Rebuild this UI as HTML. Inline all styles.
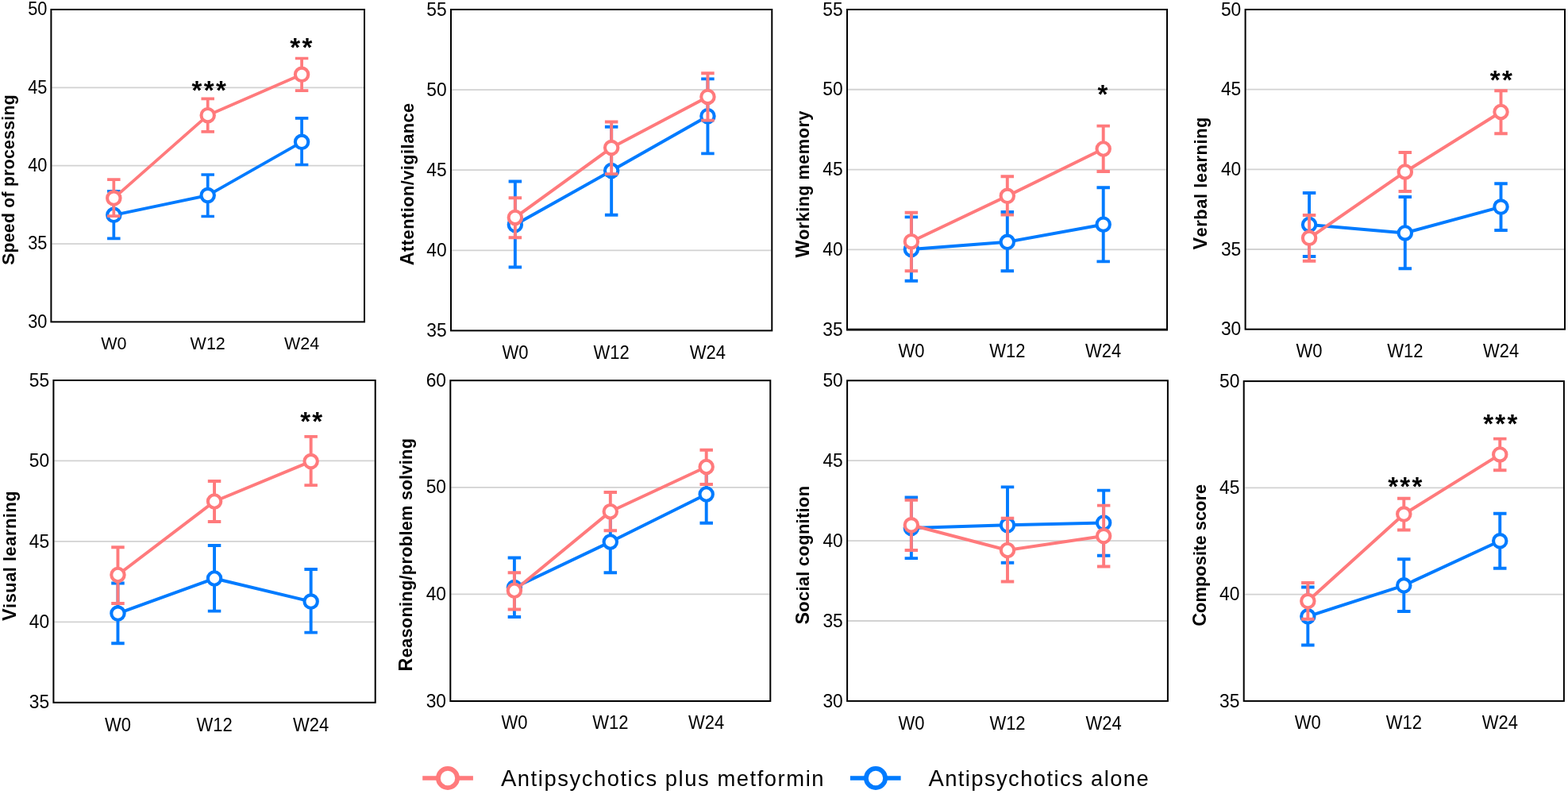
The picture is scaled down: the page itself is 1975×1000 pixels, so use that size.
<!DOCTYPE html>
<html><head><meta charset="utf-8"><title>Cognitive outcomes</title>
<style>
html,body{margin:0;padding:0;background:#fff;}
body{width:1975px;height:1000px;overflow:hidden;}
svg{display:block;}
text{font-family:"Liberation Sans",Arial,sans-serif;fill:#000;}
.gr{stroke:#D2D2D2;stroke-width:1.8;}
.fr{fill:none;stroke:#000;stroke-width:2;}
.yt{text-anchor:end;}
.xt{text-anchor:middle;}
.yl{font-weight:bold;}
.st{font-weight:bold;font-size:33px;letter-spacing:2.35px;text-anchor:middle;}
.lg{font-size:27.4px;}
</style></head>
<body>
<svg width="1975" height="1000" viewBox="0 0 1975 1000">
<rect width="1975" height="1000" fill="#fff"/>
<line x1="65.4" y1="307.05" x2="458" y2="307.05" class="gr"/>
<line x1="65.4" y1="208.7" x2="458" y2="208.7" class="gr"/>
<line x1="65.4" y1="110.35" x2="458" y2="110.35" class="gr"/>
<rect x="64.4" y="12" width="394.6" height="393.4" class="fr"/>
<text transform="translate(59.34,412.66) scale(1,1.08)" class="yt" font-size="21.77">30</text>
<text transform="translate(59.34,314.31) scale(1,1.08)" class="yt" font-size="21.77">35</text>
<text transform="translate(59.34,215.96) scale(1,1.08)" class="yt" font-size="21.77">40</text>
<text transform="translate(59.34,117.61) scale(1,1.08)" class="yt" font-size="21.77">45</text>
<text transform="translate(59.34,19.26) scale(1,1.08)" class="yt" font-size="21.77">50</text>
<text transform="translate(143.32,439.89) scale(1,1.05)" class="xt" font-size="21.49">W0</text>
<text transform="translate(261.7,439.89) scale(1,1.05)" class="xt" font-size="21.49">W12</text>
<text transform="translate(380.08,439.89) scale(1,1.05)" class="xt" font-size="21.49">W24</text>
<text transform="translate(18,333.8) rotate(-90)" class="yl" font-size="21.15" textLength="214.4" lengthAdjust="spacing"><tspan font-size="22.63">S</tspan>peed of processing</text>
<polyline points="143.32,270.8 261.7,246.1 380.08,178.8" fill="none" stroke="#007BFF" stroke-width="3.82" stroke-linejoin="round"/>
<path d="M143.32 240.9V300.4M135.07 240.9H151.57M135.07 300.4H151.57" stroke="#007BFF" stroke-width="3.72" fill="none"/>
<path d="M261.7 220V272.5M253.45 220H269.95M253.45 272.5H269.95" stroke="#007BFF" stroke-width="3.72" fill="none"/>
<path d="M380.08 148.9V207.5M371.83 148.9H388.33M371.83 207.5H388.33" stroke="#007BFF" stroke-width="3.72" fill="none"/>
<circle cx="143.32" cy="270.8" r="8.2" fill="#fff" stroke="#007BFF" stroke-width="4.1"/>
<circle cx="261.7" cy="246.1" r="8.2" fill="#fff" stroke="#007BFF" stroke-width="4.1"/>
<circle cx="380.08" cy="178.8" r="8.2" fill="#fff" stroke="#007BFF" stroke-width="4.1"/>
<polyline points="143.32,249.6 261.7,145.2 380.08,93.8" fill="none" stroke="#FF7A7C" stroke-width="3.82" stroke-linejoin="round"/>
<path d="M143.32 226.1V272.2M135.07 226.1H151.57M135.07 272.2H151.57" stroke="#FF7A7C" stroke-width="3.72" fill="none"/>
<path d="M261.7 124.3V165.8M253.45 124.3H269.95M253.45 165.8H269.95" stroke="#FF7A7C" stroke-width="3.72" fill="none"/>
<path d="M380.08 73.5V114.1M371.83 73.5H388.33M371.83 114.1H388.33" stroke="#FF7A7C" stroke-width="3.72" fill="none"/>
<circle cx="143.32" cy="249.6" r="8.2" fill="#fff" stroke="#FF7A7C" stroke-width="4.1"/>
<circle cx="261.7" cy="145.2" r="8.2" fill="#fff" stroke="#FF7A7C" stroke-width="4.1"/>
<circle cx="380.08" cy="93.8" r="8.2" fill="#fff" stroke="#FF7A7C" stroke-width="4.1"/>
<text x="264.32" y="125.05" class="st">***</text>
<text x="380.57" y="70.95" class="st">**</text>
<line x1="569" y1="315.3" x2="971.3" y2="315.3" class="gr"/>
<line x1="569" y1="214.2" x2="971.3" y2="214.2" class="gr"/>
<line x1="569" y1="113.1" x2="971.3" y2="113.1" class="gr"/>
<rect x="568" y="12" width="404.3" height="404.4" class="fr"/>
<text transform="translate(562.7,424) scale(1,1.08)" class="yt" font-size="22.8">35</text>
<text transform="translate(562.7,322.9) scale(1,1.08)" class="yt" font-size="22.8">40</text>
<text transform="translate(562.7,221.8) scale(1,1.08)" class="yt" font-size="22.8">45</text>
<text transform="translate(562.7,120.7) scale(1,1.08)" class="yt" font-size="22.8">50</text>
<text transform="translate(562.7,19.6) scale(1,1.08)" class="yt" font-size="22.8">55</text>
<text transform="translate(648.86,451.7) scale(1,1.1)" class="xt" font-size="22">W0</text>
<text transform="translate(770.15,451.7) scale(1,1.1)" class="xt" font-size="22">W12</text>
<text transform="translate(891.44,451.7) scale(1,1.1)" class="xt" font-size="22">W24</text>
<text transform="translate(520.5,334.2) rotate(-90)" class="yl" font-size="21.8" textLength="204.4" lengthAdjust="spacing"><tspan font-size="23.33">A</tspan>ttention/vigilance</text>
<polyline points="648.86,283.1 770.15,215 891.44,146.2" fill="none" stroke="#007BFF" stroke-width="4" stroke-linejoin="round"/>
<path d="M648.86 228.5V336.5M640.61 228.5H657.11M640.61 336.5H657.11" stroke="#007BFF" stroke-width="3.9" fill="none"/>
<path d="M770.15 159.7V270.7M761.9 159.7H778.4M761.9 270.7H778.4" stroke="#007BFF" stroke-width="3.9" fill="none"/>
<path d="M891.44 99.4V193.4M883.19 99.4H899.69M883.19 193.4H899.69" stroke="#007BFF" stroke-width="3.9" fill="none"/>
<circle cx="648.86" cy="283.1" r="8.2" fill="#fff" stroke="#007BFF" stroke-width="4.1"/>
<circle cx="770.15" cy="215" r="8.2" fill="#fff" stroke="#007BFF" stroke-width="4.1"/>
<circle cx="891.44" cy="146.2" r="8.2" fill="#fff" stroke="#007BFF" stroke-width="4.1"/>
<polyline points="648.86,273.9 770.15,186.1 891.44,121.9" fill="none" stroke="#FF7A7C" stroke-width="4" stroke-linejoin="round"/>
<path d="M648.86 249.3V299.3M640.61 249.3H657.11M640.61 299.3H657.11" stroke="#FF7A7C" stroke-width="3.9" fill="none"/>
<path d="M770.15 153.5V219.1M761.9 153.5H778.4M761.9 219.1H778.4" stroke="#FF7A7C" stroke-width="3.9" fill="none"/>
<path d="M891.44 92.2V151.6M883.19 92.2H899.69M883.19 151.6H899.69" stroke="#FF7A7C" stroke-width="3.9" fill="none"/>
<circle cx="648.86" cy="273.9" r="8.2" fill="#fff" stroke="#FF7A7C" stroke-width="4.1"/>
<circle cx="770.15" cy="186.1" r="8.2" fill="#fff" stroke="#FF7A7C" stroke-width="4.1"/>
<circle cx="891.44" cy="121.9" r="8.2" fill="#fff" stroke="#FF7A7C" stroke-width="4.1"/>
<line x1="1068" y1="314.33" x2="1469" y2="314.33" class="gr"/>
<line x1="1068" y1="213.55" x2="1469" y2="213.55" class="gr"/>
<line x1="1068" y1="112.77" x2="1469" y2="112.77" class="gr"/>
<rect x="1067" y="12" width="403" height="403.1" class="fr"/>
<line x1="1066" y1="415.1" x2="1471" y2="415.1" stroke="#000" stroke-width="2.7"/>
<text transform="translate(1061.7,422.7) scale(1,1.08)" class="yt" font-size="22.8">35</text>
<text transform="translate(1061.7,321.93) scale(1,1.08)" class="yt" font-size="22.8">40</text>
<text transform="translate(1061.7,221.15) scale(1,1.08)" class="yt" font-size="22.8">45</text>
<text transform="translate(1061.7,120.37) scale(1,1.08)" class="yt" font-size="22.8">50</text>
<text transform="translate(1061.7,19.6) scale(1,1.08)" class="yt" font-size="22.8">55</text>
<text transform="translate(1147.9,450.4) scale(1,1.1)" class="xt" font-size="22">W0</text>
<text transform="translate(1268.8,450.4) scale(1,1.1)" class="xt" font-size="22">W12</text>
<text transform="translate(1389.7,450.4) scale(1,1.1)" class="xt" font-size="22">W24</text>
<text transform="translate(1019,324.4) rotate(-90)" class="yl" font-size="21.8" textLength="184.8" lengthAdjust="spacing"><tspan font-size="23.33">W</tspan>orking memory</text>
<polyline points="1147.9,314 1268.8,304.8 1389.7,282.7" fill="none" stroke="#007BFF" stroke-width="4" stroke-linejoin="round"/>
<path d="M1147.9 273.4V353.8M1139.65 273.4H1156.15M1139.65 353.8H1156.15" stroke="#007BFF" stroke-width="3.9" fill="none"/>
<path d="M1268.8 267V341.2M1260.55 267H1277.05M1260.55 341.2H1277.05" stroke="#007BFF" stroke-width="3.9" fill="none"/>
<path d="M1389.7 236.2V329.4M1381.45 236.2H1397.95M1381.45 329.4H1397.95" stroke="#007BFF" stroke-width="3.9" fill="none"/>
<circle cx="1147.9" cy="314" r="8.2" fill="#fff" stroke="#007BFF" stroke-width="4.1"/>
<circle cx="1268.8" cy="304.8" r="8.2" fill="#fff" stroke="#007BFF" stroke-width="4.1"/>
<circle cx="1389.7" cy="282.7" r="8.2" fill="#fff" stroke="#007BFF" stroke-width="4.1"/>
<polyline points="1147.9,304.2 1268.8,246.8 1389.7,187.5" fill="none" stroke="#FF7A7C" stroke-width="4" stroke-linejoin="round"/>
<path d="M1147.9 267.8V341.2M1139.65 267.8H1156.15M1139.65 341.2H1156.15" stroke="#FF7A7C" stroke-width="3.9" fill="none"/>
<path d="M1268.8 222.2V270.6M1260.55 222.2H1277.05M1260.55 270.6H1277.05" stroke="#FF7A7C" stroke-width="3.9" fill="none"/>
<path d="M1389.7 158.6V216M1381.45 158.6H1397.95M1381.45 216H1397.95" stroke="#FF7A7C" stroke-width="3.9" fill="none"/>
<circle cx="1147.9" cy="304.2" r="8.2" fill="#fff" stroke="#FF7A7C" stroke-width="4.1"/>
<circle cx="1268.8" cy="246.8" r="8.2" fill="#fff" stroke="#FF7A7C" stroke-width="4.1"/>
<circle cx="1389.7" cy="187.5" r="8.2" fill="#fff" stroke="#FF7A7C" stroke-width="4.1"/>
<text x="1390.22" y="130.1" class="st">*</text>
<line x1="1569.6" y1="314.02" x2="1970" y2="314.02" class="gr"/>
<line x1="1569.6" y1="213.35" x2="1970" y2="213.35" class="gr"/>
<line x1="1569.6" y1="112.68" x2="1970" y2="112.68" class="gr"/>
<rect x="1568.6" y="12" width="402.4" height="402.7" class="fr"/>
<text transform="translate(1563.3,422.3) scale(1,1.08)" class="yt" font-size="22.8">30</text>
<text transform="translate(1563.3,321.62) scale(1,1.08)" class="yt" font-size="22.8">35</text>
<text transform="translate(1563.3,220.95) scale(1,1.08)" class="yt" font-size="22.8">40</text>
<text transform="translate(1563.3,120.28) scale(1,1.08)" class="yt" font-size="22.8">45</text>
<text transform="translate(1563.3,19.6) scale(1,1.08)" class="yt" font-size="22.8">50</text>
<text transform="translate(1649.08,450) scale(1,1.1)" class="xt" font-size="22">W0</text>
<text transform="translate(1769.8,450) scale(1,1.1)" class="xt" font-size="22">W12</text>
<text transform="translate(1890.52,450) scale(1,1.1)" class="xt" font-size="22">W24</text>
<text transform="translate(1519.6,314.6) rotate(-90)" class="yl" font-size="21.8" textLength="167" lengthAdjust="spacing"><tspan font-size="23.33">V</tspan>erbal learning</text>
<polyline points="1649.08,283 1769.8,293.4 1890.52,260.6" fill="none" stroke="#007BFF" stroke-width="4" stroke-linejoin="round"/>
<path d="M1649.08 243V323M1640.83 243H1657.33M1640.83 323H1657.33" stroke="#007BFF" stroke-width="3.9" fill="none"/>
<path d="M1769.8 248V338.2M1761.55 248H1778.05M1761.55 338.2H1778.05" stroke="#007BFF" stroke-width="3.9" fill="none"/>
<path d="M1890.52 231.2V290M1882.27 231.2H1898.77M1882.27 290H1898.77" stroke="#007BFF" stroke-width="3.9" fill="none"/>
<circle cx="1649.08" cy="283" r="8.2" fill="#fff" stroke="#007BFF" stroke-width="4.1"/>
<circle cx="1769.8" cy="293.4" r="8.2" fill="#fff" stroke="#007BFF" stroke-width="4.1"/>
<circle cx="1890.52" cy="260.6" r="8.2" fill="#fff" stroke="#007BFF" stroke-width="4.1"/>
<polyline points="1649.08,299.8 1769.8,216.4 1890.52,141" fill="none" stroke="#FF7A7C" stroke-width="4" stroke-linejoin="round"/>
<path d="M1649.08 271V328.7M1640.83 271H1657.33M1640.83 328.7H1657.33" stroke="#FF7A7C" stroke-width="3.9" fill="none"/>
<path d="M1769.8 192V241M1761.55 192H1778.05M1761.55 241H1778.05" stroke="#FF7A7C" stroke-width="3.9" fill="none"/>
<path d="M1890.52 114.2V168.2M1882.27 114.2H1898.77M1882.27 168.2H1898.77" stroke="#FF7A7C" stroke-width="3.9" fill="none"/>
<circle cx="1649.08" cy="299.8" r="8.2" fill="#fff" stroke="#FF7A7C" stroke-width="4.1"/>
<circle cx="1769.8" cy="216.4" r="8.2" fill="#fff" stroke="#FF7A7C" stroke-width="4.1"/>
<circle cx="1890.52" cy="141" r="8.2" fill="#fff" stroke="#FF7A7C" stroke-width="4.1"/>
<text x="1891.97" y="112.2" class="st">**</text>
<line x1="68.4" y1="783.35" x2="471.7" y2="783.35" class="gr"/>
<line x1="68.4" y1="681.9" x2="471.7" y2="681.9" class="gr"/>
<line x1="68.4" y1="580.45" x2="471.7" y2="580.45" class="gr"/>
<rect x="67.4" y="479" width="405.3" height="405.8" class="fr"/>
<text transform="translate(62.1,892.4) scale(1,1.08)" class="yt" font-size="22.8">35</text>
<text transform="translate(62.1,790.95) scale(1,1.08)" class="yt" font-size="22.8">40</text>
<text transform="translate(62.1,689.5) scale(1,1.08)" class="yt" font-size="22.8">45</text>
<text transform="translate(62.1,588.05) scale(1,1.08)" class="yt" font-size="22.8">50</text>
<text transform="translate(62.1,486.6) scale(1,1.08)" class="yt" font-size="22.8">55</text>
<text transform="translate(148.46,920.7) scale(1,1.1)" class="xt" font-size="22">W0</text>
<text transform="translate(270.05,920.7) scale(1,1.1)" class="xt" font-size="22">W12</text>
<text transform="translate(391.64,920.7) scale(1,1.1)" class="xt" font-size="22">W24</text>
<text transform="translate(20.2,782) rotate(-90)" class="yl" font-size="21.8" textLength="163.6" lengthAdjust="spacing"><tspan font-size="23.33">V</tspan>isual learning</text>
<polyline points="148.46,772.6 270.05,728.5 391.64,757.6" fill="none" stroke="#007BFF" stroke-width="4" stroke-linejoin="round"/>
<path d="M148.46 734.5V810.2M140.21 734.5H156.71M140.21 810.2H156.71" stroke="#007BFF" stroke-width="3.9" fill="none"/>
<path d="M270.05 687V769.6M261.8 687H278.3M261.8 769.6H278.3" stroke="#007BFF" stroke-width="3.9" fill="none"/>
<path d="M391.64 717V796.6M383.39 717H399.89M383.39 796.6H399.89" stroke="#007BFF" stroke-width="3.9" fill="none"/>
<circle cx="148.46" cy="772.6" r="8.2" fill="#fff" stroke="#007BFF" stroke-width="4.1"/>
<circle cx="270.05" cy="728.5" r="8.2" fill="#fff" stroke="#007BFF" stroke-width="4.1"/>
<circle cx="391.64" cy="757.6" r="8.2" fill="#fff" stroke="#007BFF" stroke-width="4.1"/>
<polyline points="148.46,724 270.05,631.5 391.64,581.1" fill="none" stroke="#FF7A7C" stroke-width="4" stroke-linejoin="round"/>
<path d="M148.46 689.2V760M140.21 689.2H156.71M140.21 760H156.71" stroke="#FF7A7C" stroke-width="3.9" fill="none"/>
<path d="M270.05 606V657M261.8 606H278.3M261.8 657H278.3" stroke="#FF7A7C" stroke-width="3.9" fill="none"/>
<path d="M391.64 549.9V611.1M383.39 549.9H399.89M383.39 611.1H399.89" stroke="#FF7A7C" stroke-width="3.9" fill="none"/>
<circle cx="148.46" cy="724" r="8.2" fill="#fff" stroke="#FF7A7C" stroke-width="4.1"/>
<circle cx="270.05" cy="631.5" r="8.2" fill="#fff" stroke="#FF7A7C" stroke-width="4.1"/>
<circle cx="391.64" cy="581.1" r="8.2" fill="#fff" stroke="#FF7A7C" stroke-width="4.1"/>
<text x="393.38" y="541.7" class="st">**</text>
<line x1="568.3" y1="748.4" x2="969.3" y2="748.4" class="gr"/>
<line x1="568.3" y1="613.8" x2="969.3" y2="613.8" class="gr"/>
<rect x="567.3" y="479.2" width="403" height="403.8" class="fr"/>
<text transform="translate(562,890.6) scale(1,1.08)" class="yt" font-size="22.8">30</text>
<text transform="translate(562,756) scale(1,1.08)" class="yt" font-size="22.8">40</text>
<text transform="translate(562,621.4) scale(1,1.08)" class="yt" font-size="22.8">50</text>
<text transform="translate(562,486.8) scale(1,1.08)" class="yt" font-size="22.8">60</text>
<text transform="translate(647.9,918.3) scale(1,1.1)" class="xt" font-size="22">W0</text>
<text transform="translate(768.8,918.3) scale(1,1.1)" class="xt" font-size="22">W12</text>
<text transform="translate(889.7,918.3) scale(1,1.1)" class="xt" font-size="22">W24</text>
<text transform="translate(519,845.4) rotate(-90)" class="yl" font-size="21.8" textLength="293.4" lengthAdjust="spacing"><tspan font-size="23.33">R</tspan>easoning/problem solving</text>
<polyline points="647.9,740 768.8,682.5 889.7,622.5" fill="none" stroke="#007BFF" stroke-width="4" stroke-linejoin="round"/>
<path d="M647.9 702.5V777M639.65 702.5H656.15M639.65 777H656.15" stroke="#007BFF" stroke-width="3.9" fill="none"/>
<path d="M768.8 643.75V721.25M760.55 643.75H777.05M760.55 721.25H777.05" stroke="#007BFF" stroke-width="3.9" fill="none"/>
<path d="M889.7 586.25V658.75M881.45 586.25H897.95M881.45 658.75H897.95" stroke="#007BFF" stroke-width="3.9" fill="none"/>
<circle cx="647.9" cy="740" r="8.2" fill="#fff" stroke="#007BFF" stroke-width="4.1"/>
<circle cx="768.8" cy="682.5" r="8.2" fill="#fff" stroke="#007BFF" stroke-width="4.1"/>
<circle cx="889.7" cy="622.5" r="8.2" fill="#fff" stroke="#007BFF" stroke-width="4.1"/>
<polyline points="647.9,743.75 768.8,644.25 889.7,588" fill="none" stroke="#FF7A7C" stroke-width="4" stroke-linejoin="round"/>
<path d="M647.9 721.25V767.5M639.65 721.25H656.15M639.65 767.5H656.15" stroke="#FF7A7C" stroke-width="3.9" fill="none"/>
<path d="M768.8 620V668.25M760.55 620H777.05M760.55 668.25H777.05" stroke="#FF7A7C" stroke-width="3.9" fill="none"/>
<path d="M889.7 566.75V610M881.45 566.75H897.95M881.45 610H897.95" stroke="#FF7A7C" stroke-width="3.9" fill="none"/>
<circle cx="647.9" cy="743.75" r="8.2" fill="#fff" stroke="#FF7A7C" stroke-width="4.1"/>
<circle cx="768.8" cy="644.25" r="8.2" fill="#fff" stroke="#FF7A7C" stroke-width="4.1"/>
<circle cx="889.7" cy="588" r="8.2" fill="#fff" stroke="#FF7A7C" stroke-width="4.1"/>
<line x1="1068.1" y1="782" x2="1469.9" y2="782" class="gr"/>
<line x1="1068.1" y1="681.1" x2="1469.9" y2="681.1" class="gr"/>
<line x1="1068.1" y1="580.2" x2="1469.9" y2="580.2" class="gr"/>
<rect x="1067.1" y="479.3" width="403.8" height="403.6" class="fr"/>
<text transform="translate(1061.8,890.5) scale(1,1.08)" class="yt" font-size="22.8">30</text>
<text transform="translate(1061.8,789.6) scale(1,1.08)" class="yt" font-size="22.8">35</text>
<text transform="translate(1061.8,688.7) scale(1,1.08)" class="yt" font-size="22.8">40</text>
<text transform="translate(1061.8,587.8) scale(1,1.08)" class="yt" font-size="22.8">45</text>
<text transform="translate(1061.8,486.9) scale(1,1.08)" class="yt" font-size="22.8">50</text>
<text transform="translate(1147.86,918.8) scale(1,1.1)" class="xt" font-size="22">W0</text>
<text transform="translate(1269,918.8) scale(1,1.1)" class="xt" font-size="22">W12</text>
<text transform="translate(1390.14,918.8) scale(1,1.1)" class="xt" font-size="22">W24</text>
<text transform="translate(1018.6,786.6) rotate(-90)" class="yl" font-size="21.8" textLength="174.6" lengthAdjust="spacing"><tspan font-size="23.33">S</tspan>ocial cognition</text>
<polyline points="1147.86,665.1 1269,661.3 1390.14,658.4" fill="none" stroke="#007BFF" stroke-width="4" stroke-linejoin="round"/>
<path d="M1147.86 626.5V703.1M1139.61 626.5H1156.11M1139.61 703.1H1156.11" stroke="#007BFF" stroke-width="3.9" fill="none"/>
<path d="M1269 613.4V708.8M1260.75 613.4H1277.25M1260.75 708.8H1277.25" stroke="#007BFF" stroke-width="3.9" fill="none"/>
<path d="M1390.14 617.6V699.7M1381.89 617.6H1398.39M1381.89 699.7H1398.39" stroke="#007BFF" stroke-width="3.9" fill="none"/>
<circle cx="1147.86" cy="665.1" r="8.2" fill="#fff" stroke="#007BFF" stroke-width="4.1"/>
<circle cx="1269" cy="661.3" r="8.2" fill="#fff" stroke="#007BFF" stroke-width="4.1"/>
<circle cx="1390.14" cy="658.4" r="8.2" fill="#fff" stroke="#007BFF" stroke-width="4.1"/>
<polyline points="1147.86,661.3 1269,693 1390.14,675.1" fill="none" stroke="#FF7A7C" stroke-width="4" stroke-linejoin="round"/>
<path d="M1147.86 629.9V693M1139.61 629.9H1156.11M1139.61 693H1156.11" stroke="#FF7A7C" stroke-width="3.9" fill="none"/>
<path d="M1269 652.7V732.5M1260.75 652.7H1277.25M1260.75 732.5H1277.25" stroke="#FF7A7C" stroke-width="3.9" fill="none"/>
<path d="M1390.14 636.6V713.5M1381.89 636.6H1398.39M1381.89 713.5H1398.39" stroke="#FF7A7C" stroke-width="3.9" fill="none"/>
<circle cx="1147.86" cy="661.3" r="8.2" fill="#fff" stroke="#FF7A7C" stroke-width="4.1"/>
<circle cx="1269" cy="693" r="8.2" fill="#fff" stroke="#FF7A7C" stroke-width="4.1"/>
<circle cx="1390.14" cy="675.1" r="8.2" fill="#fff" stroke="#FF7A7C" stroke-width="4.1"/>
<line x1="1567.7" y1="748.63" x2="1968.9" y2="748.63" class="gr"/>
<line x1="1567.7" y1="614.37" x2="1968.9" y2="614.37" class="gr"/>
<rect x="1566.7" y="480.1" width="403.2" height="402.8" class="fr"/>
<text transform="translate(1561.4,890.5) scale(1,1.08)" class="yt" font-size="22.8">35</text>
<text transform="translate(1561.4,756.23) scale(1,1.08)" class="yt" font-size="22.8">40</text>
<text transform="translate(1561.4,621.97) scale(1,1.08)" class="yt" font-size="22.8">45</text>
<text transform="translate(1561.4,487.7) scale(1,1.08)" class="yt" font-size="22.8">50</text>
<text transform="translate(1647.34,918.2) scale(1,1.1)" class="xt" font-size="22">W0</text>
<text transform="translate(1768.3,918.2) scale(1,1.1)" class="xt" font-size="22">W12</text>
<text transform="translate(1889.26,918.2) scale(1,1.1)" class="xt" font-size="22">W24</text>
<text transform="translate(1518.7,788.8) rotate(-90)" class="yl" font-size="21.8" textLength="179" lengthAdjust="spacing"><tspan font-size="23.33">C</tspan>omposite score</text>
<polyline points="1647.34,776.3 1768.3,737.3 1889.26,681.3" fill="none" stroke="#007BFF" stroke-width="4" stroke-linejoin="round"/>
<path d="M1647.34 739.5V812.5M1639.09 739.5H1655.59M1639.09 812.5H1655.59" stroke="#007BFF" stroke-width="3.9" fill="none"/>
<path d="M1768.3 704.3V770M1760.05 704.3H1776.55M1760.05 770H1776.55" stroke="#007BFF" stroke-width="3.9" fill="none"/>
<path d="M1889.26 646.7V715.8M1881.01 646.7H1897.51M1881.01 715.8H1897.51" stroke="#007BFF" stroke-width="3.9" fill="none"/>
<circle cx="1647.34" cy="776.3" r="8.2" fill="#fff" stroke="#007BFF" stroke-width="4.1"/>
<circle cx="1768.3" cy="737.3" r="8.2" fill="#fff" stroke="#007BFF" stroke-width="4.1"/>
<circle cx="1889.26" cy="681.3" r="8.2" fill="#fff" stroke="#007BFF" stroke-width="4.1"/>
<polyline points="1647.34,757.1 1768.3,647.6 1889.26,572.4" fill="none" stroke="#FF7A7C" stroke-width="4" stroke-linejoin="round"/>
<path d="M1647.34 734V779.8M1639.09 734H1655.59M1639.09 779.8H1655.59" stroke="#FF7A7C" stroke-width="3.9" fill="none"/>
<path d="M1768.3 627.8V667.5M1760.05 627.8H1776.55M1760.05 667.5H1776.55" stroke="#FF7A7C" stroke-width="3.9" fill="none"/>
<path d="M1889.26 552.6V592.3M1881.01 552.6H1897.51M1881.01 592.3H1897.51" stroke="#FF7A7C" stroke-width="3.9" fill="none"/>
<circle cx="1647.34" cy="757.1" r="8.2" fill="#fff" stroke="#FF7A7C" stroke-width="4.1"/>
<circle cx="1768.3" cy="647.6" r="8.2" fill="#fff" stroke="#FF7A7C" stroke-width="4.1"/>
<circle cx="1889.26" cy="572.4" r="8.2" fill="#fff" stroke="#FF7A7C" stroke-width="4.1"/>
<text x="1770.97" y="624.2" class="st">***</text>
<text x="1890.97" y="545.05" class="st">***</text>

<line x1="532.2" y1="980" x2="595.9" y2="980" stroke="#FF7A7C" stroke-width="5.7"/>
<circle cx="564" cy="980" r="12.1" fill="#fff" stroke="#FF7A7C" stroke-width="5.8"/>
<text x="630.9" y="990.4" class="lg" textLength="406.6" lengthAdjust="spacing"><tspan font-size="29.1">A</tspan>ntipsychotics plus metformin</text>
<line x1="1070.9" y1="980" x2="1134.6" y2="980" stroke="#007BFF" stroke-width="5.7"/>
<circle cx="1103" cy="980" r="12.1" fill="#fff" stroke="#007BFF" stroke-width="5.8"/>
<text x="1169.4" y="990.4" class="lg" textLength="277.3" lengthAdjust="spacing"><tspan font-size="29.1">A</tspan>ntipsychotics alone</text>

</svg>
</body></html>
